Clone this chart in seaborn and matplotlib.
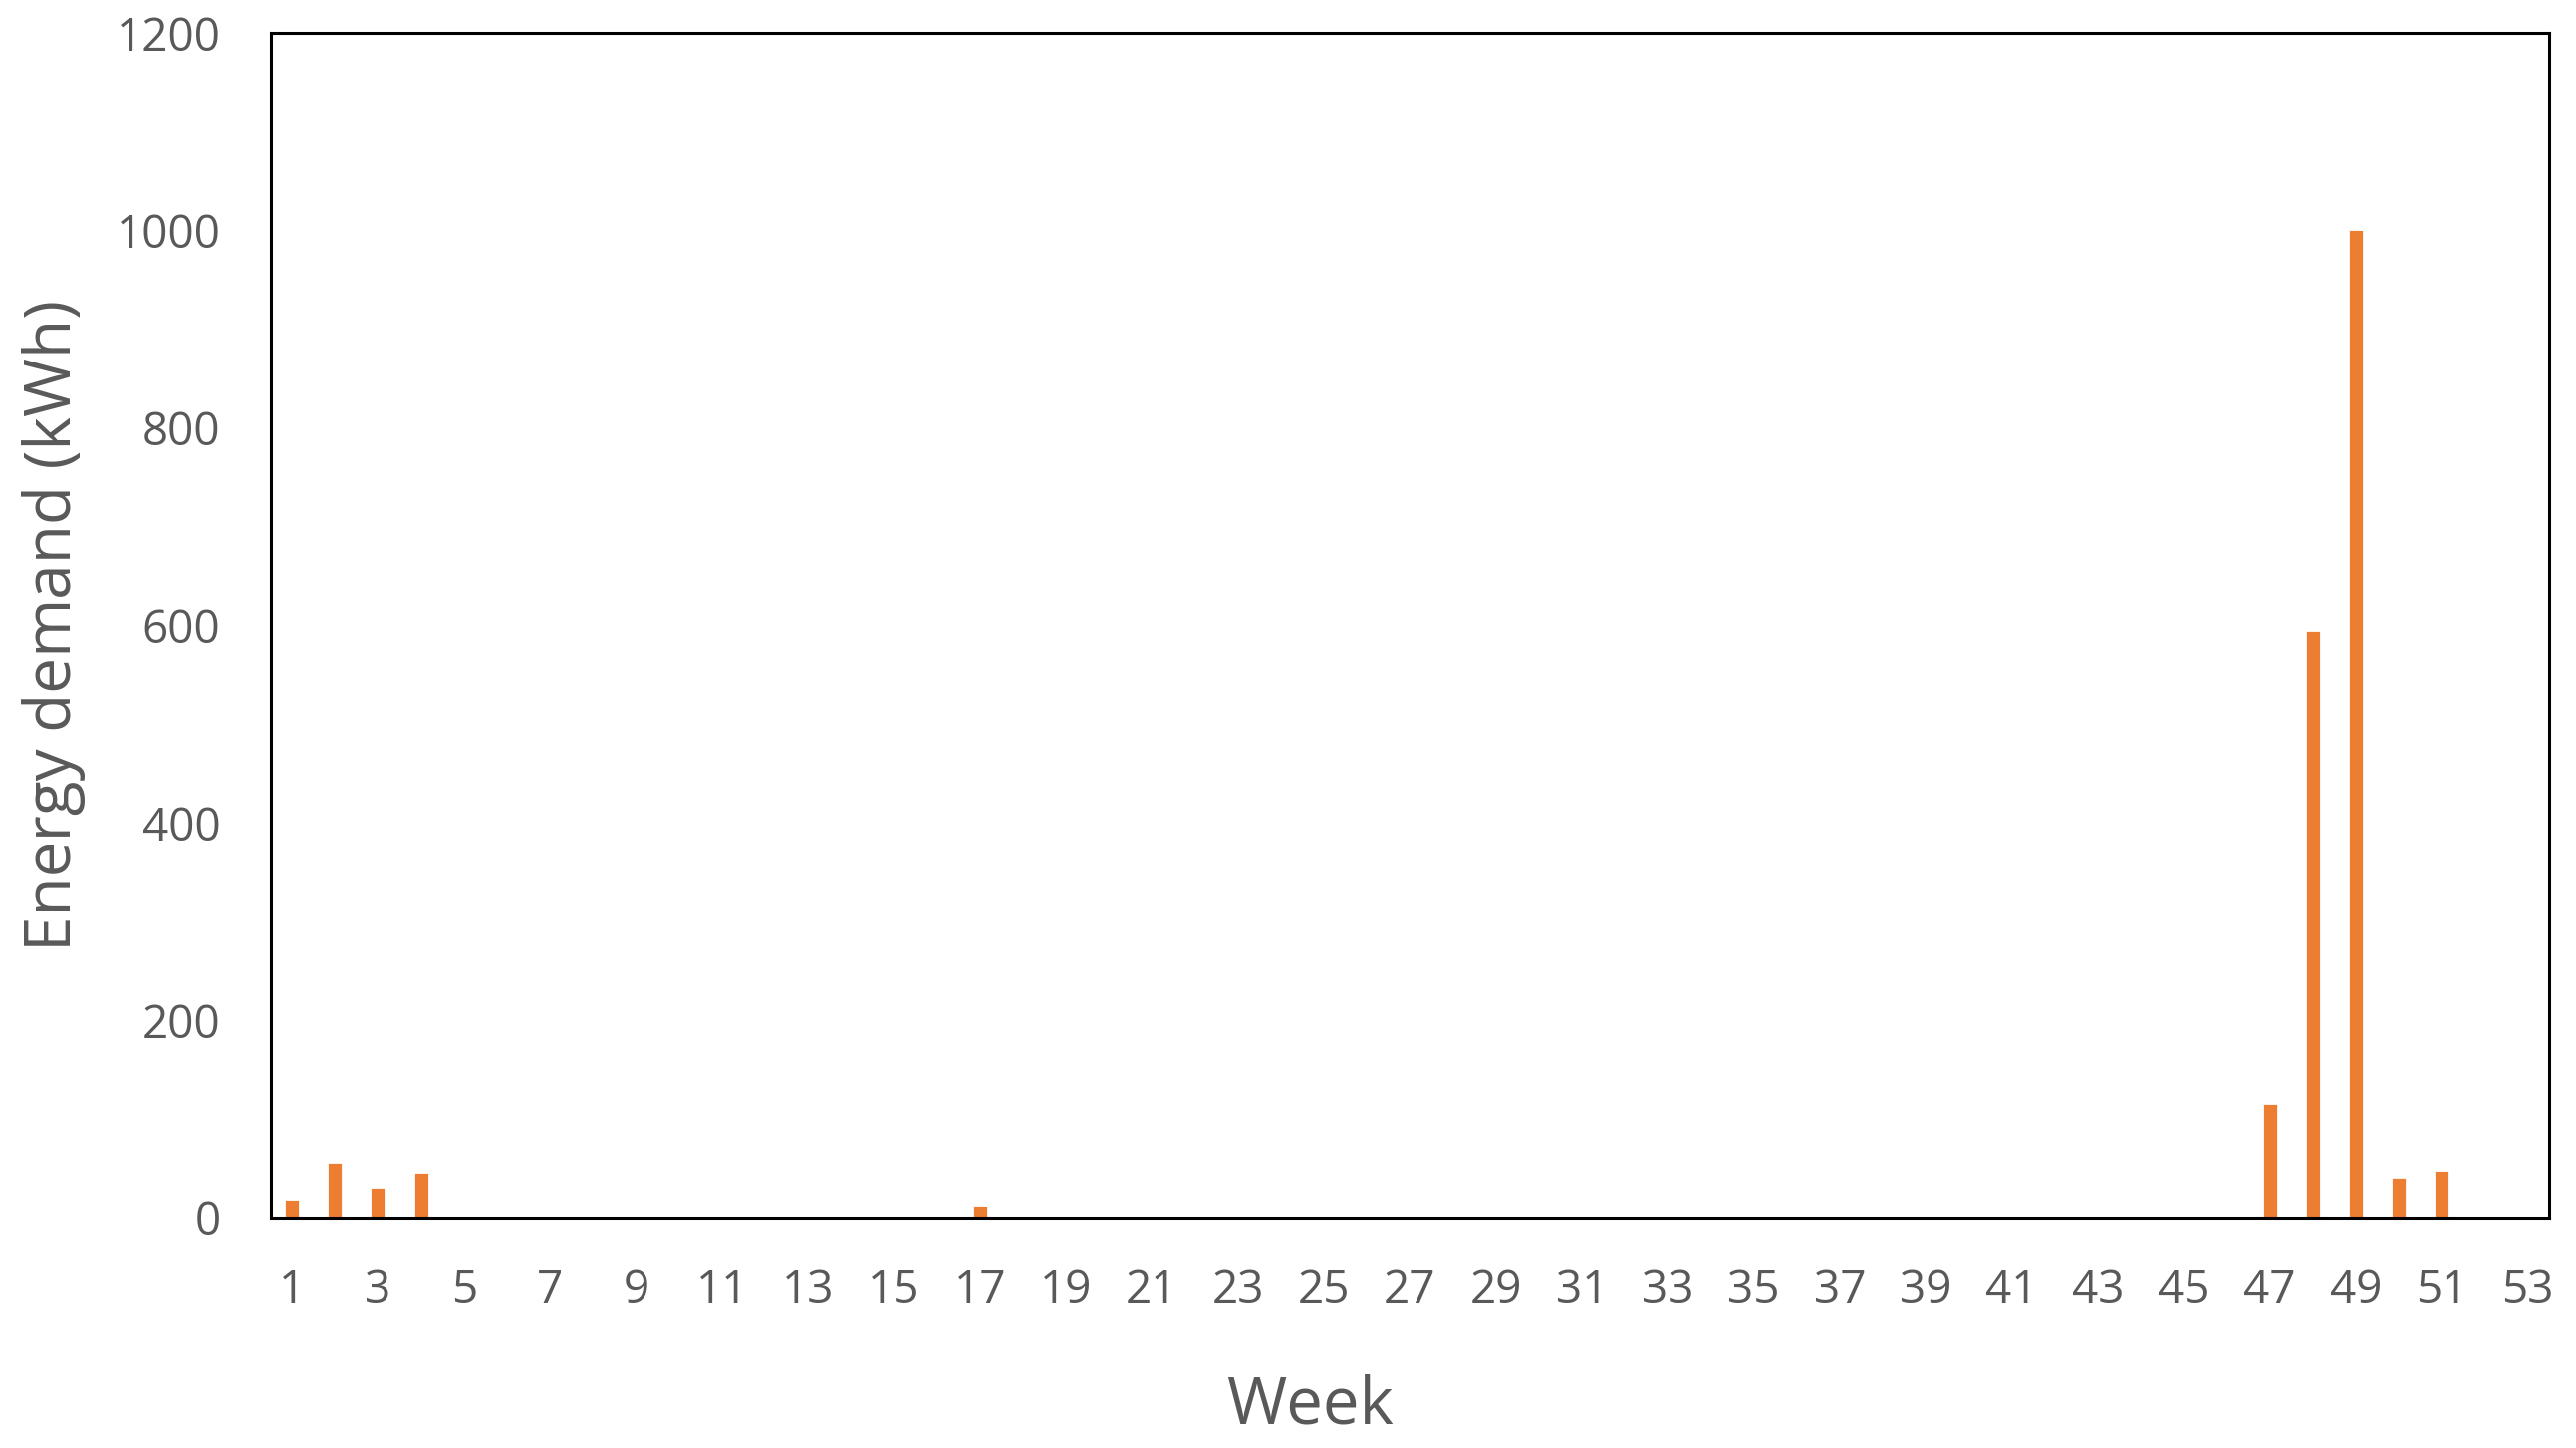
import pandas as pd
import matplotlib.pyplot as plt
import seaborn as sns

sns.set_theme(style="white")
plt.rcParams['font.family'] = ['Open Sans', 'DejaVu Sans']

# Weekly energy demand (kWh), weeks 1..53
weeks = list(range(1, 54))
demand = [19, 56, 31, 46, 0, 0, 0, 0, 0, 0,
          0, 0, 0, 0, 0, 0, 13, 0, 0, 0,
          0, 0, 0, 0, 0, 0, 0, 0, 0, 0,
          0, 0, 0, 0, 0, 0, 0, 0, 0, 0,
          0, 0, 0, 0, 0, 0, 116, 595, 1002, 41,
          48, 0, 0]

df = pd.DataFrame({'Week': weeks, 'Demand': demand})

fig = plt.figure(figsize=(12.93, 7.27), dpi=200)
ax = fig.add_axes([0.105, 0.159, 0.8846, 0.818])

sns.barplot(data=df, x='Week', y='Demand', order=weeks, color='#ED7D31',
            saturation=1, width=0.37, ax=ax)

ax.set_xlim(-0.5, len(weeks) - 0.5)
ax.set_ylim(0, 1200)
ax.set_yticks(range(0, 1201, 200))
ax.set_xticks(range(0, len(weeks), 2))
ax.set_xticklabels([str(w) for w in weeks[::2]])

for s in ax.spines.values():
    s.set_color('black')
    s.set_linewidth(1.1)

ax.tick_params(axis='y', direction='in', length=6, width=1.1, color='black',
               labelsize=16.5, labelcolor='#595959', pad=18)
ax.tick_params(axis='x', length=0, labelsize=16.5, labelcolor='#595959', pad=18)

ax.set_xlabel('Week', fontsize=23.5, color='#595959', labelpad=22)
ax.xaxis.label.set_x(0.456)
ax.set_ylabel('Energy demand (kWh)', fontsize=23, color='#595959', labelpad=11)

plt.savefig('out.png', dpi=200)
plt.close()
